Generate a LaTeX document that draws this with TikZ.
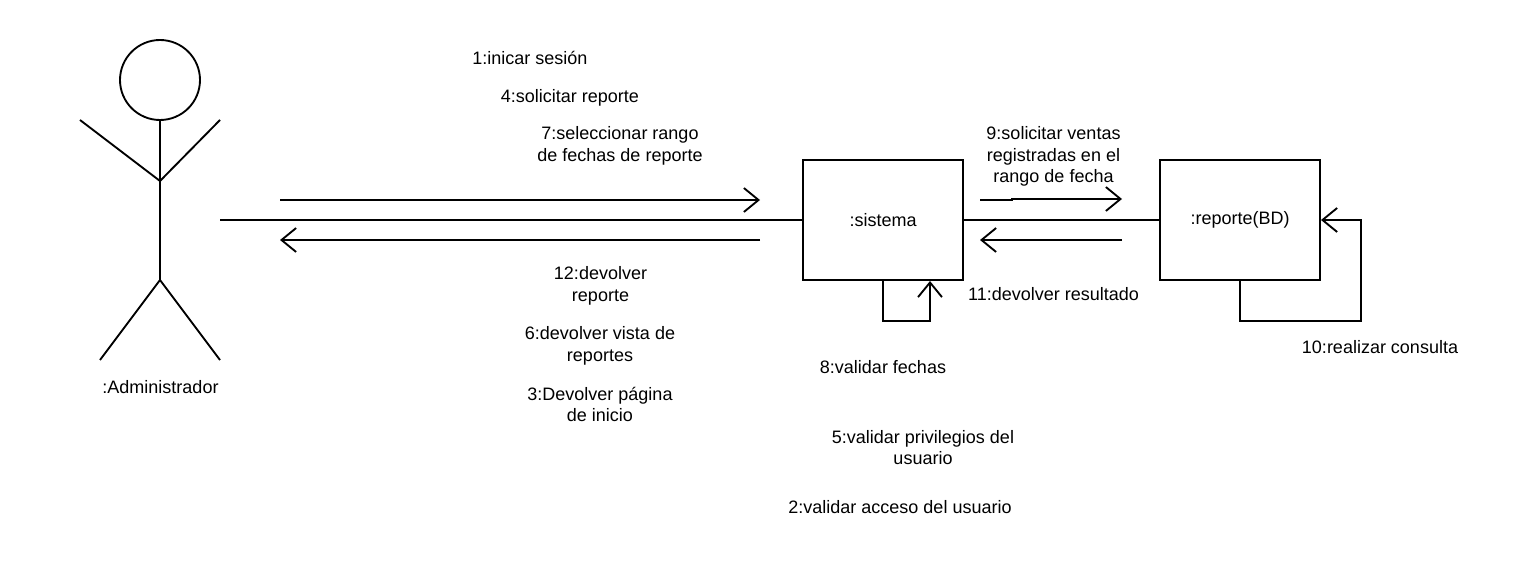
\documentclass[tikz,border=0pt]{standalone}
\usepackage{fontspec}
\setmainfont{Liberation Sans}
\usetikzlibrary{arrows.meta}
\tikzset{
 ln/.style={line width=1.4pt,black},
 arr/.style={ln,-{Straight Barb[length=11pt,width=18pt,line width=1.4pt]}},
 box/.style={draw,line width=1.4pt,outer sep=0pt,minimum width=120pt,minimum height=90pt,inner sep=0pt,font=\fontsize{13.5pt}{16.3pt}\selectfont},
 lab/.style={inner sep=0pt,align=center,font=\fontsize{13.5pt}{16.3pt}\selectfont}
}
\begin{document}
\begin{tikzpicture}[x=0.75pt,y=-0.75pt]
\useasboundingbox[fill=white] (0,0) rectangle (1540,580);
\node[box] (sis) at (883,220) {:sistema};
\node[box] (rep) at (1240,220) {:reporte(BD)};
\node[draw,circle,ln,minimum size=60pt,inner sep=0pt,outer sep=0pt] (head) at (160,80) {};
\coordinate (hip) at (160,280);
\coordinate (neck) at (160,181);
\coordinate (hl) at (80,120);
\coordinate (hr) at (220,120);
\coordinate (fl) at (100,360);
\coordinate (fr) at (220,360);
\draw[ln] (head.south) -- (hip);
\draw[ln] (hl) -- (neck) -- (hr);
\draw[ln] (fl) -- (hip) -- (fr);
\coordinate (as) at (220,220);
\draw[ln] (as) -- (sis.west);
\draw[ln] (sis.east) -- (rep.west);
\coordinate (a1s) at (280,200); \coordinate (a1e) at (760,200);
\coordinate (a2s) at (760,240); \coordinate (a2e) at (280,240);
\coordinate (a3s) at (980,200); \coordinate (a3m) at (1012,200); \coordinate (a3n) at (1012,199); \coordinate (a3e) at (1122,199);
\coordinate (a4s) at (1122,240); \coordinate (a4e) at (980,240);
\draw[arr] (a1s) -- (a1e);
\draw[arr] (a2s) -- (a2e);
\draw[arr] (a3s) -- (a3m) -- (a3n) -- (a3e);
\draw[arr] (a4s) -- (a4e);
\draw[arr] (883,280) -- (883,321) -- (930,321) -- (930,281);
\draw[arr] (1240,280) -- (1240,321) -- (1361,321) -- (1361,220) -- (1321,220);
\node[lab] (t0) at (160.5,387.5) {:Administrador};
\node[lab] (t1) at (530,58) {1:inicar sesión};
\node[lab] (t4) at (570,98) {4:solicitar reporte};
\node[lab] (t7) at (620,145.5) {7:seleccionar rango\\de fechas de reporte};
\node[lab] (t9) at (1053.5,156.5) {9:solicitar ventas\\registradas en el\\rango de fecha};
\node[lab] (t12) at (600.5,285.5) {12:devolver\\reporte};
\node[lab] (t6) at (600,345.5) {6:devolver vista de\\reportes};
\node[lab] (t3) at (600,404.5) {3:Devolver página\\de inicio};
\node[lab] (t11) at (1053.5,294) {11:devolver resultado};
\node[lab] (t10) at (1380,347.5) {10:realizar consulta};
\node[lab] (t8) at (883,367.5) {8:validar fechas};
\node[lab] (t5) at (923,447.5) {5:validar privilegios del\\usuario};
\node[lab] (t2) at (900,507.5) {2:validar acceso del usuario};
\end{tikzpicture}
\end{document}
